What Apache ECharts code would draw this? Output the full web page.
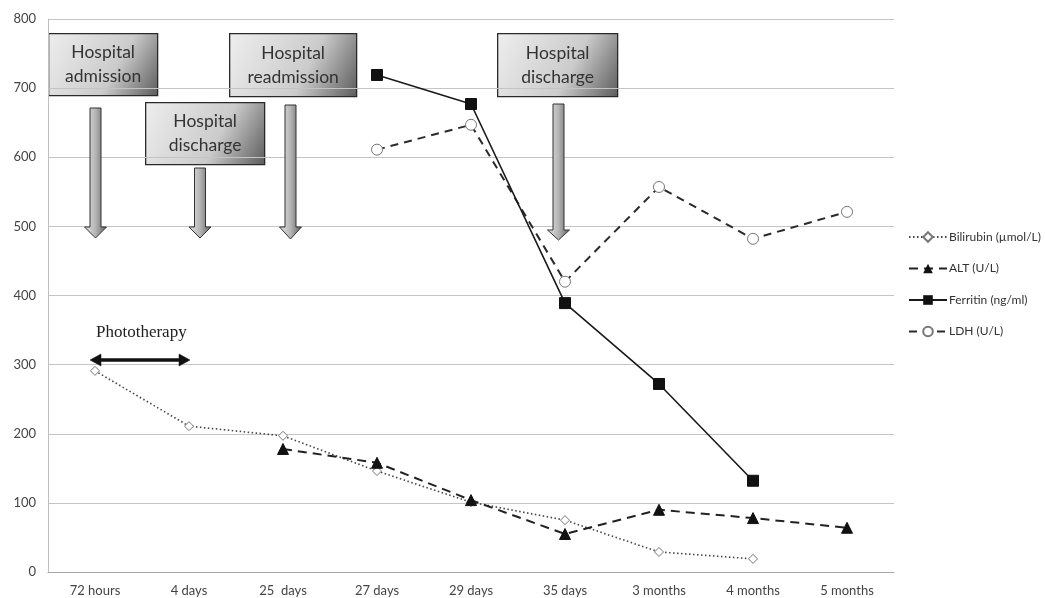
<!DOCTYPE html>
<html>
<head>
<meta charset="utf-8">
<script src="https://cdn.jsdelivr.net/npm/echarts@6/dist/echarts.min.js"></script>
<style>html,body{margin:0;padding:0;background:#fff;}#c{width:1045px;height:598px;}</style>
</head>
<body>
<div id="c"></div>
<script>
const categories = ['72 hours','4 days','25  days','27 days','29 days','35 days','3 months','4 months','5 months'];
const bilirubin = [291, 211, 197, 146, 101, 75, 29, 19, null];
const alt = [null, null, 178, 158, 104, 55, 90, 78, 64];
const ferritin = [null, null, null, 719, 677, 389, 272, 132, null];
const ldh = [null, null, null, 611, 647, 420, 557, 482, 521];
const yTicks = [0, 100, 200, 300, 400, 500, 600, 700, 800];

const FONT = 'Lato, "Open Sans", sans-serif';
const chart = echarts.init(document.getElementById('c'));

const boxFill = {
  type: 'linear', x: 0, y: 0, x2: 1, y2: 1,
  colorStops: [{offset: 0, color: '#eeeeee'}, {offset: 0.6, color: '#cbcbcb'}, {offset: 1, color: '#5a5a5a'}]
};
const arrowFill = {
  type: 'linear', x: 0, y: 0, x2: 1, y2: 0,
  colorStops: [{offset: 0, color: '#e6e6e6'}, {offset: 0.5, color: '#b5b5b5'}, {offset: 1, color: '#5e5e5e'}]
};
function box(x, y, w, h, label) {
  return {
    type: 'group', left: x, top: y, z: 100,
    children: [
      {type: 'rect', shape: {x: 0, y: 0, width: w, height: h}, style: {fill: boxFill, stroke: '#2a2a2a', lineWidth: 1.3}},
      {type: 'text', x: w / 2, y: h / 2, style: {text: label, fill: '#333', font: '17.5px ' + FONT, align: 'center', verticalAlign: 'middle', lineHeight: 24}}
    ]
  };
}
function downArrow(cx, top, headTop, tip) {
  const sw = 5.5, hw = 11;
  return {
    type: 'polygon', z: 100,
    shape: {points: [[cx - sw, top], [cx + sw, top], [cx + sw, headTop], [cx + hw, headTop], [cx, tip], [cx - hw, headTop], [cx - sw, headTop]]},
    style: {fill: arrowFill, stroke: '#333', lineWidth: 1}
  };
}

const option = {
  backgroundColor: '#fff',
  animation: false,
  grid: {left: 48, right: 151, top: 19, bottom: 26, containLabel: false},
  legend: {
    orient: 'vertical', left: 903, top: 226,
    itemWidth: 38, itemHeight: 12, itemGap: 19.5,
    textStyle: {fontFamily: FONT, fontSize: 12, color: '#333', padding: [0, 0, 0, -3]},
    data: ['Bilirubin (µmol/L)', 'ALT (U/L)', 'Ferritin (ng/ml)', 'LDH (U/L)']
  },
  xAxis: {
    type: 'category', data: categories, boundaryGap: true,
    axisLine: {lineStyle: {color: '#a6a6a6', width: 1}},
    axisTick: {show: false},
    axisLabel: {fontFamily: FONT, fontSize: 13, color: '#444', margin: 12}
  },
  yAxis: {
    type: 'value', min: yTicks[0], max: yTicks[yTicks.length - 1], interval: 100,
    axisLine: {show: true, lineStyle: {color: '#bfbfbf', width: 1}},
    axisTick: {show: false},
    splitLine: {lineStyle: {color: '#c4c4c4', width: 1}},
    axisLabel: {fontFamily: FONT, fontSize: 13, color: '#444', margin: 12}
  },
  series: [
    {
      name: 'Bilirubin (µmol/L)', type: 'line', data: bilirubin,
      symbol: 'diamond', symbolSize: 9, showAllSymbol: true,
      lineStyle: {color: '#444', width: 1.6, type: [1.5, 2.5]},
      itemStyle: {color: '#fff', borderColor: '#777', borderWidth: 1},
      z: 3
    },
    {
      name: 'ALT (U/L)', type: 'line', data: alt,
      symbol: 'triangle', symbolSize: 11,
      lineStyle: {color: '#222', width: 2, type: [9, 6]},
      itemStyle: {color: '#111', borderColor: '#111'},
      z: 4
    },
    {
      name: 'Ferritin (ng/ml)', type: 'line', data: ferritin,
      symbol: 'rect', symbolSize: 11,
      lineStyle: {color: '#1a1a1a', width: 1.6, type: 'solid'},
      itemStyle: {color: '#111', borderColor: '#111'},
      z: 5
    },
    {
      name: 'LDH (U/L)', type: 'line', data: ldh,
      symbol: 'circle', symbolSize: 11,
      lineStyle: {color: '#2a2a2a', width: 2, type: [8, 6]},
      itemStyle: {color: '#fff', borderColor: '#777', borderWidth: 1},
      z: 4
    }
  ],
  graphic: [
    box(48, 33, 109, 62, 'Hospital\nadmission'),
    box(145, 102, 119, 62, 'Hospital\ndischarge'),
    box(229, 33, 127, 63, 'Hospital\nreadmission'),
    box(497, 33, 120, 63, 'Hospital\ndischarge'),
    downArrow(95.5, 108, 227, 238),
    downArrow(200, 168, 227, 238),
    downArrow(290.5, 105, 227, 239),
    downArrow(558.5, 104, 230, 240),
    {
      type: 'text', left: 96, top: 324, z: 100,
      style: {text: 'Phototherapy', fill: '#222', font: '17px "Liberation Serif", "DejaVu Serif", serif'}
    },
    {
      type: 'polygon', z: 100,
      shape: {points: [[90, 360], [101, 354], [101, 358.5], [179, 358.5], [179, 354], [190, 360], [179, 366], [179, 361.5], [101, 361.5], [101, 366]]},
      style: {fill: '#111', stroke: '#111', lineWidth: 0.5}
    }
  ]
};
chart.setOption(option);
</script>
</body>
</html>
